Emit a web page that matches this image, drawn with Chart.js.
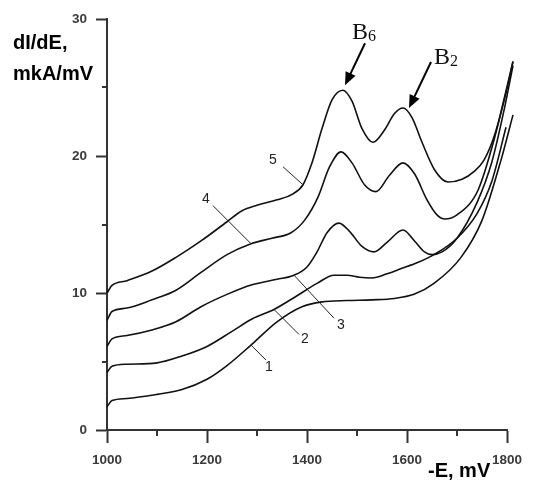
<!DOCTYPE html>
<html>
<head>
<meta charset="utf-8">
<script src="https://cdn.jsdelivr.net/npm/chart.js@4.4.1/dist/chart.umd.min.js"></script>
<style>
  body { margin: 0; background: #fff; }
  #wrap { width: 538px; height: 483px; }
</style>
</head>
<body>
<div id="wrap"><canvas id="chart" width="538" height="483"></canvas></div>
<script>
// potential (-E, mV) and dI/dE (mkA/mV) for each voltammogram
const potential1 = [1000, 1010, 1040, 1100, 1150, 1200, 1240, 1288, 1340, 1390, 1430, 1480, 1530, 1575, 1614, 1654, 1708, 1750, 1788, 1812]
const current1 = [1.7, 2.15, 2.3, 2.6, 2.95, 3.7, 4.7, 6.2, 7.9, 9.0, 9.35, 9.45, 9.5, 9.6, 9.9, 10.7, 12.6, 15.3, 19.7, 23.0]

const potential2 = [1000, 1010, 1040, 1100, 1150, 1200, 1250, 1290, 1334, 1380, 1420, 1454, 1480, 1505, 1530, 1560, 1590, 1620, 1654, 1700, 1740, 1770, 1798]
const current2 = [4.2, 4.65, 4.8, 4.9, 5.4, 6.1, 7.2, 8.1, 8.8, 9.8, 10.7, 11.3, 11.3, 11.15, 11.1, 11.4, 11.8, 12.2, 12.8, 14.0, 15.8, 18.2, 22.1]

const potential3 = [1000, 1010, 1040, 1090, 1138, 1188, 1240, 1290, 1340, 1374, 1400, 1420, 1440, 1464, 1485, 1510, 1534, 1560, 1592, 1615, 1635, 1650, 1670, 1700, 1740, 1770, 1795, 1812]
const current3 = [6.1, 6.65, 6.9, 7.3, 7.9, 9.0, 9.9, 10.6, 11.0, 11.3, 11.9, 13.0, 14.4, 15.1, 14.5, 13.4, 13.0, 13.7, 14.6, 13.8, 13.0, 12.8, 13.0, 14.0, 16.6, 19.6, 23.5, 26.6]

const potential4 = [1000, 1010, 1040, 1090, 1138, 1188, 1240, 1288, 1330, 1368, 1395, 1422, 1445, 1468, 1490, 1515, 1538, 1565, 1592, 1615, 1640, 1660, 1676, 1700, 1742, 1775, 1795, 1812]
const current4 = [8.0, 8.65, 8.9, 9.5, 10.2, 11.5, 12.8, 13.6, 14.0, 14.4, 15.3, 17.0, 19.2, 20.3, 19.5, 17.9, 17.4, 18.6, 19.5, 18.7, 16.8, 15.7, 15.4, 15.7, 17.5, 21.3, 24.3, 26.9]

const potential5 = [1000, 1010, 1040, 1090, 1138, 1188, 1240, 1270, 1300, 1340, 1370, 1392, 1410, 1430, 1450, 1472, 1490, 1510, 1532, 1555, 1575, 1592, 1610, 1630, 1655, 1682, 1710, 1735, 1754, 1774, 1798, 1812]
const current5 = [10.0, 10.55, 10.9, 11.6, 12.6, 13.8, 15.2, 16.0, 16.4, 16.8, 17.2, 17.9, 19.5, 22.0, 24.1, 24.8, 24.0, 22.0, 21.0, 21.9, 23.1, 23.5, 22.8, 21.0, 19.0, 18.1, 18.3, 18.9, 19.7, 21.4, 24.6, 26.9]

const curveNames = ['1', '2', '3', '4', '5']
// potential where each number's leader line meets its curve
const leaderAt = [1288, 1334, 1374, 1288, 1392]

// peaks marked with arrows (on curve 5)
const peakNames = ['B', 'B']
const peakSubs = ['6', '2']
const peakAt = [1472, 1592]

const xTicks = [1000, 1200, 1400, 1600, 1800]
const xMinor = [1100, 1300, 1500, 1700]
const yTicks = [0, 10, 20, 30]
const yMinor = [5, 15, 25]

const potentials = [potential1, potential2, potential3, potential4, potential5]
const currents = [current1, current2, current3, current4, current5]

function toPoints(xs, ys) {
  return xs.map((x, i) => ({ x: x, y: ys[i] }))
}

function valueAt(k, e) {
  return currents[k][potentials[k].indexOf(e)]
}

const axisColor = '#333'
const tickFont = { family: '"Liberation Sans", Arial, sans-serif', size: 13.5, weight: 'bold' }

function arrow(ctx, x0, y0, x1, y1) {
  const a = Math.atan2(y1 - y0, x1 - x0)
  const len = 13
  const w = 5.5
  ctx.strokeStyle = '#000'
  ctx.fillStyle = '#000'
  ctx.lineWidth = 2
  ctx.beginPath()
  ctx.moveTo(x0, y0)
  ctx.lineTo(x1 - Math.cos(a) * len * 0.8, y1 - Math.sin(a) * len * 0.8)
  ctx.stroke()
  ctx.beginPath()
  ctx.moveTo(x1, y1)
  ctx.lineTo(x1 - Math.cos(a) * len - Math.sin(a) * w, y1 - Math.sin(a) * len + Math.cos(a) * w)
  ctx.lineTo(x1 - Math.cos(a) * len + Math.sin(a) * w, y1 - Math.sin(a) * len - Math.cos(a) * w)
  ctx.closePath()
  ctx.fill()
}

const decorations = {
  id: 'decorations',
  afterDraw(chart) {
    const ctx = chart.ctx
    const xs = chart.scales.x
    const ys = chart.scales.y
    ctx.save()

    // short minor ticks
    ctx.strokeStyle = axisColor
    ctx.lineWidth = 2
    xMinor.forEach((v) => {
      const px = Math.round(xs.getPixelForValue(v))
      ctx.beginPath()
      ctx.moveTo(px, ys.bottom)
      ctx.lineTo(px, ys.bottom + 6)
      ctx.stroke()
    })
    yMinor.forEach((v) => {
      const py = Math.round(ys.getPixelForValue(v))
      ctx.beginPath()
      ctx.moveTo(xs.left, py)
      ctx.lineTo(xs.left - 5, py)
      ctx.stroke()
    })

    // curve numbers with leader lines
    const offsets = [
      [15, 15, 18, 22],
      [25, 25, 31, 30],
      [40, 43, 47, 50],
      [-38, -38, -45, -45],
      [-20, -18, -30, -25],
    ]
    ctx.lineWidth = 1
    ctx.strokeStyle = '#222'
    ctx.fillStyle = '#222'
    ctx.font = '14px "Liberation Sans", Arial, sans-serif'
    ctx.textAlign = 'center'
    ctx.textBaseline = 'middle'
    curveNames.forEach((name, k) => {
      const e = leaderAt[k]
      const px = xs.getPixelForValue(e)
      const py = ys.getPixelForValue(valueAt(k, e))
      const o = offsets[k]
      ctx.beginPath()
      ctx.moveTo(px, py)
      ctx.lineTo(px + o[0], py + o[1])
      ctx.stroke()
      ctx.fillText(name, px + o[2], py + o[3])
    })

    // peak arrows
    const arrowFrom = [[20, -42, -13, -4], [22, -46, 3, 2]]
    const tipShift = [[2, -5], [6, 0]]
    ctx.textAlign = 'left'
    ctx.textBaseline = 'alphabetic'
    peakNames.forEach((name, k) => {
      const tx = xs.getPixelForValue(peakAt[k]) + tipShift[k][0]
      const ty = ys.getPixelForValue(valueAt(4, peakAt[k])) + tipShift[k][1]
      const a = arrowFrom[k]
      arrow(ctx, tx + a[0], ty + a[1], tx, ty)
      const lx = tx + a[0] + a[2]
      const ly = ty + a[1] + a[3]
      ctx.fillStyle = '#111'
      ctx.font = '24px "Liberation Serif", "Times New Roman", serif'
      ctx.fillText(name, lx, ly)
      const bw = ctx.measureText(name).width
      ctx.font = '16px "Liberation Serif", "Times New Roman", serif'
      ctx.fillText(peakSubs[k], lx + bw, ly + 2)
    })

    // axis titles
    ctx.fillStyle = '#000'
    ctx.font = 'bold 20px "Liberation Sans", Arial, sans-serif'
    ctx.fillText('dI/dE,', 13, 49)
    ctx.fillText('mkA/mV', 13, 80)
    ctx.fillText('-E, mV', 428, 477)
    ctx.restore()
  },
}

const datasets = potentials.map((xs, k) => ({
  label: curveNames[k],
  data: toPoints(xs, currents[k]),
  borderColor: '#111',
  borderWidth: 1.6,
  pointRadius: 0,
  cubicInterpolationMode: 'monotone',
  clip: false,
}))

new Chart(document.getElementById('chart'), {
  type: 'line',
  data: { datasets: datasets },
  options: {
    responsive: false,
    animation: false,
    events: [],
    layout: { padding: { top: 19, right: 31, left: 0, bottom: 0 } },
    plugins: {
      legend: { display: false },
      tooltip: { enabled: false },
    },
    scales: {
      x: {
        type: 'linear',
        min: 1000,
        max: 1800,
        afterBuildTicks: (scale) => {
          scale.ticks = xTicks.map((v) => ({ value: v }))
        },
        afterFit: (scale) => {
          scale.height = 53
        },
        ticks: {
          color: '#3a3a3a',
          font: tickFont,
          padding: 9,
          maxRotation: 0,
          callback: (v) => String(v),
        },
        grid: {
          drawOnChartArea: false,
          tickLength: 13,
          tickWidth: 2,
          tickColor: axisColor,
        },
        border: { color: axisColor, width: 2 },
      },
      y: {
        min: 0,
        max: 30,
        afterBuildTicks: (scale) => {
          scale.ticks = yTicks.map((v) => ({ value: v }))
        },
        afterFit: (scale) => {
          scale.width = 107
        },
        ticks: {
          color: '#3a3a3a',
          font: tickFont,
          padding: 9,
          callback: (v) => String(v),
        },
        grid: {
          drawOnChartArea: false,
          tickLength: 11,
          tickWidth: 2,
          tickColor: axisColor,
        },
        border: { color: axisColor, width: 2 },
      },
    },
  },
  plugins: [decorations],
})
</script>
</body>
</html>
